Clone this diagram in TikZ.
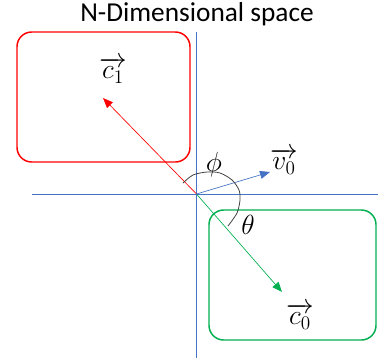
\documentclass[tikz,border=0pt]{standalone}
\usepackage{fontspec}
\setmainfont{Carlito}
\usepackage{amsmath}
\usetikzlibrary{arrows.meta}

\definecolor{axisblue}{HTML}{4472C4}
\definecolor{boxred}{HTML}{FF0000}
\definecolor{boxgreen}{HTML}{00B050}

\tikzset{
  axis/.style={axisblue, line width=0.6pt},
  cluster/.style={line width=1.1pt, rounded corners=11pt},
  vec/.style={line width=0.5pt, -{Triangle[length=7.5pt,width=6pt]}},
  lbl/.style={inner sep=0pt, font=\fontsize{20}{22}\selectfont},
}

\begin{document}
\begin{tikzpicture}[x=0.75pt, y=-0.75pt]
  \useasboundingbox (0,0) rectangle (378,358);
  % title
  \node[inner sep=0pt, font=\fontsize{20.5}{23}\selectfont] (title) at (197,14) {N-Dimensional space};
  % axes
  \coordinate (O) at (196.5,194);
  \coordinate (ytop) at (196.5,32);
  \coordinate (ybot) at (196.5,358);
  \coordinate (xl) at (32,194);
  \coordinate (xr) at (378,194);
  \draw[axis] (ytop) -- (ybot);
  \draw[axis] (xl) -- (xr);
  % clusters
  \draw[cluster, boxred] (17,32) rectangle (190,162);
  \draw[cluster, boxgreen] (209,210) rectangle (376,340);
  % vectors
  \coordinate (c1tip) at (103,98);
  \coordinate (c0tip) at (282,292);
  \coordinate (v0tip) at (270,172);
  \draw[vec, boxred] (O) -- (c1tip);
  \draw[vec, boxgreen] (O) -- (c0tip);
  \draw[vec, axisblue] (O) -- (v0tip);
  % angle
  \draw[black!75, line width=0.6pt] plot[smooth] coordinates {(183,183) (193,175) (207,172) (220,173) (232,180) (239,190) (240,200) (237,213) (228,226)};
  % labels
  \node[lbl] (c1) at (113,70) {$\overrightarrow{c_1}$};
  \node[lbl] (c0) at (300,316) {$\overrightarrow{c_0}$};
  \node[lbl] (v0) at (284,161) {$\overrightarrow{v_0}$};
  \node[lbl] (phi) at (214,165) {$\phi$};
  \node[lbl] (theta) at (248,225) {$\theta$};
\end{tikzpicture}
\end{document}
